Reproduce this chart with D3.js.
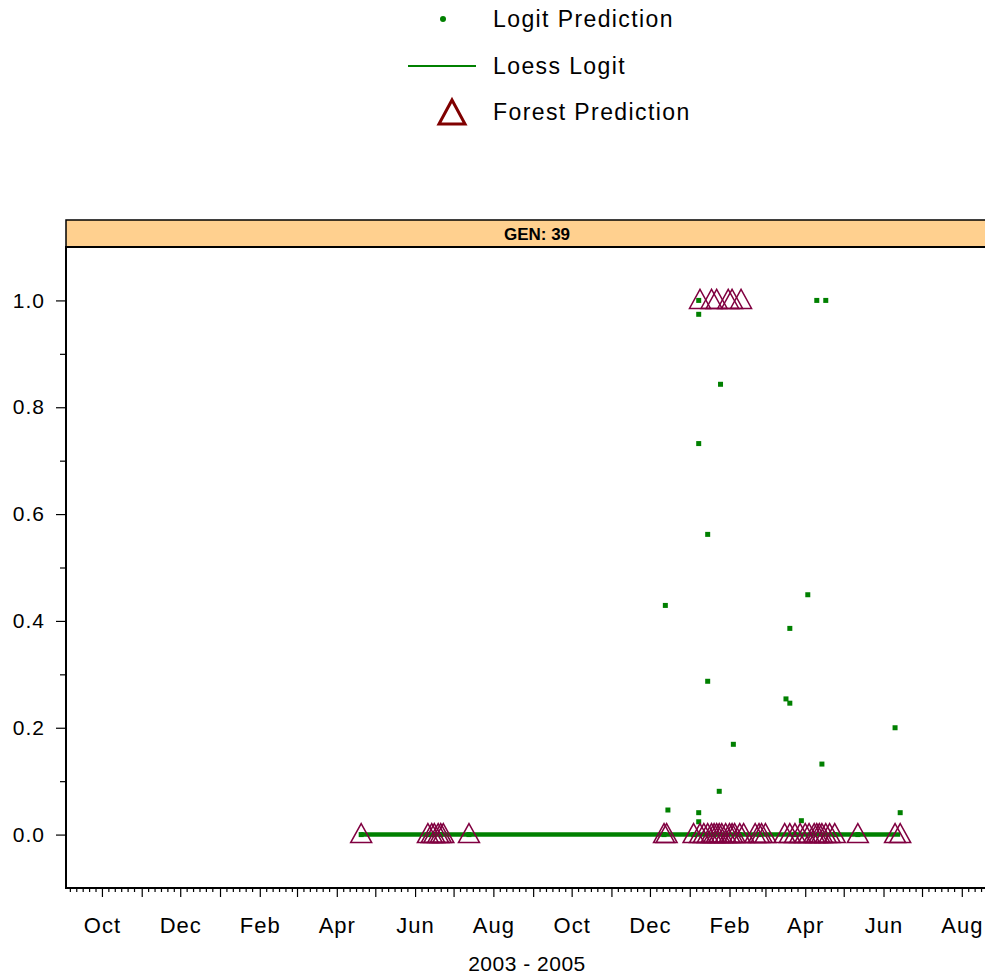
<!DOCTYPE html>
<html>
<head>
<meta charset="utf-8">
<script src="https://cdn.jsdelivr.net/npm/d3@7"></script>
<style>
  body { margin: 0; background: #fff; }
  svg { display: block; font-family: "Liberation Sans", Arial, sans-serif; }
  .axis path, .axis line { stroke: #000; stroke-width: 1.2; }
  .axis text { fill: #000; }
</style>
</head>
<body>
<div id="chart-area"></div>
<script>

// data
var panelLabel = "GEN: 39";
var xTitle = "2003 - 2005";

var logitDates = [
  "2005-01-08", "2005-01-08", "2005-04-10", "2005-04-17", "2005-01-25",
  "2005-01-08", "2005-01-15", "2004-12-13", "2005-04-03", "2005-03-20",
  "2005-01-15", "2005-03-17", "2005-03-20", "2005-02-04", "2005-04-14",
  "2005-06-10", "2005-01-24", "2004-12-15", "2005-01-08", "2005-01-08",
  "2005-03-29", "2005-06-14",
  "2004-04-20", "2004-06-11", "2004-06-16", "2004-06-21", "2004-07-13",
  "2004-12-12", "2005-01-04", "2005-01-20", "2005-02-09", "2005-02-24",
  "2005-03-24", "2005-04-24", "2005-05-12"
];
var logitValues = [
  1.0, 0.974, 1.0, 1.0, 0.843,
  0.732, 0.562, 0.429, 0.449, 0.386,
  0.287, 0.254, 0.246, 0.169, 0.132,
  0.200, 0.081, 0.046, 0.041, 0.024,
  0.026, 0.041,
  0, 0, 0, 0, 0,
  0, 0, 0, 0, 0,
  0, 0, 0
];

var loessDates = ["2004-04-20", "2004-10-01", "2005-06-14"];
var loessValues = [0, 0, 0];

var forestDates = [
  "2004-04-20", "2004-06-11", "2004-06-14", "2004-06-16", "2004-06-19",
  "2004-06-21", "2004-06-23", "2004-07-13",
  "2004-12-12", "2004-12-14", "2005-01-04", "2005-01-09", "2005-01-12",
  "2005-01-15", "2005-01-18", "2005-01-20", "2005-01-22", "2005-01-24",
  "2005-01-26", "2005-01-29", "2005-02-01", "2005-02-03", "2005-02-05",
  "2005-02-09", "2005-02-12", "2005-02-21", "2005-02-24", "2005-02-26",
  "2005-03-01", "2005-03-16", "2005-03-20", "2005-03-24", "2005-03-28",
  "2005-04-01", "2005-04-04", "2005-04-08", "2005-04-10", "2005-04-12",
  "2005-04-14", "2005-04-17", "2005-04-20", "2005-04-24", "2005-05-12",
  "2005-06-10", "2005-06-14",
  "2005-01-09", "2005-01-18", "2005-01-22", "2005-01-31", "2005-02-03",
  "2005-02-10"
];
var forestValues = [
  0, 0, 0, 0, 0, 0, 0, 0,
  0, 0, 0, 0, 0, 0, 0, 0, 0, 0,
  0, 0, 0, 0, 0, 0, 0, 0, 0, 0,
  0, 0, 0, 0, 0, 0, 0, 0, 0, 0,
  0, 0, 0, 0, 0, 0, 0,
  1, 1, 1, 1, 1, 1
];

var legendLabels = ["Logit Prediction", "Loess Logit", "Forest Prediction"];
var yTicks = [0, 0.2, 0.4, 0.6, 0.8, 1.0];
var yMinorTicks = [0.1, 0.3, 0.5, 0.7, 0.9];
var xDomain = ["2003-09-03", "2005-09-06"];
var yDomain = [-0.1, 1.1];

var W = 985, H = 977;
var green = "#008000", maroon = "#800040";

// layout
var plot = {left: 66, right: 1008, top: 247, bottom: 888, stripTop: 220};

var parse = d3.utcParse("%Y-%m-%d");

var svg = d3.select("#chart-area").append("svg")
    .attr("width", W)
    .attr("height", H);

var x = d3.scaleUtc()
    .domain(xDomain.map(parse))
    .range([plot.left, plot.right]);

var y = d3.scaleLinear()
    .domain(yDomain)
    .range([plot.bottom, plot.top]);

// legend
var legend = svg.append("g").attr("class", "legend");
var legendY = [19, 66, 112];

legend.append("circle")
    .attr("cx", 443).attr("cy", legendY[0]).attr("r", 3)
    .attr("fill", green);

legend.append("line")
    .attr("x1", 408).attr("x2", 476)
    .attr("y1", legendY[1]).attr("y2", legendY[1])
    .attr("stroke", green).attr("stroke-width", 2);

legend.append("path")
    .attr("d", "M452,100 L465,124 L439,124 Z")
    .attr("fill", "none")
    .attr("stroke", "#800000")
    .attr("stroke-width", 3);

legend.selectAll("text.lab")
    .data(legendLabels)
    .enter().append("text")
    .attr("class", "lab")
    .attr("x", 493)
    .attr("y", function (d, i) { return legendY[i]; })
    .attr("dy", "0.36em")
    .style("font-size", "23px")
    .style("letter-spacing", "1.4px")
    .text(function (d) { return d; });

// clip region for plot marks
svg.append("clipPath").attr("id", "clip")
    .append("rect")
    .attr("x", plot.left).attr("y", plot.top)
    .attr("width", plot.right - plot.left)
    .attr("height", plot.bottom - plot.top);

// strip
svg.append("rect")
    .attr("x", plot.left).attr("y", plot.stripTop)
    .attr("width", plot.right - plot.left)
    .attr("height", plot.top - plot.stripTop)
    .attr("fill", "#ffd08f")
    .attr("stroke", "#000").attr("stroke-width", 1.5);

svg.append("text")
    .attr("x", (plot.left + plot.right) / 2)
    .attr("y", (plot.stripTop + plot.top) / 2)
    .attr("dy", "0.36em")
    .attr("text-anchor", "middle")
    .style("font-size", "17px")
    .style("font-weight", "bold")
    .text(panelLabel);

// panel box
svg.append("rect")
    .attr("x", plot.left).attr("y", plot.top)
    .attr("width", plot.right - plot.left)
    .attr("height", plot.bottom - plot.top)
    .attr("fill", "none")
    .attr("stroke", "#000").attr("stroke-width", 2);

var marks = svg.append("g").attr("clip-path", "url(#clip)");

// logit points
var logitData = logitDates.map(function (d, i) {
    return {date: parse(d), value: logitValues[i]};
});
marks.selectAll("rect.logit")
    .data(logitData)
    .enter().append("rect")
    .attr("class", "logit")
    .attr("x", function (d) { return x(d.date) - 2.5; })
    .attr("y", function (d) { return y(d.value) - 2.5; })
    .attr("width", 5).attr("height", 5)
    .attr("fill", green);

// loess line
var loessData = loessDates.map(function (d, i) {
    return {date: parse(d), value: loessValues[i]};
});
marks.append("path")
    .datum(loessData)
    .attr("fill", "none")
    .attr("stroke", green)
    .attr("stroke-width", 4.5)
    .attr("d", d3.line()
        .x(function (d) { return x(d.date); })
        .y(function (d) { return y(d.value); }));

// forest triangles
var forestData = forestDates.map(function (d, i) {
    return {date: parse(d), value: forestValues[i]};
});
marks.selectAll("path.forest")
    .data(forestData)
    .enter().append("path")
    .attr("class", "forest")
    .attr("transform", function (d) {
        return "translate(" + x(d.date) + "," + y(d.value) + ")";
    })
    .attr("d", "M0,-11 L10.5,8 L-10.5,8 Z")
    .attr("fill", "none")
    .attr("stroke", maroon)
    .attr("stroke-width", 1.5);

// y axis
var yAxis = svg.append("g")
    .attr("class", "axis")
    .attr("transform", "translate(" + plot.left + ",0)")
    .call(d3.axisLeft(y).tickValues(yTicks).tickSize(10).tickPadding(11)
        .tickFormat(d3.format(".1f")));
yAxis.select(".domain").remove();
yAxis.selectAll("text")
    .style("font-size", "21px")
    .style("letter-spacing", "1px")
    .style("font-family", "'Liberation Sans', Arial, sans-serif");

var yMinor = svg.append("g")
    .attr("class", "axis")
    .attr("transform", "translate(" + plot.left + ",0)")
    .call(d3.axisLeft(y).tickValues(yMinorTicks).tickSize(6).tickFormat(""));
yMinor.select(".domain").remove();

// x axis: months (major), every 5 days (minor)
var xd = x.domain();
var months = d3.utcMonth.range(xd[0], xd[1]);
var minorDays = d3.utcDay.range(xd[0], xd[1]).filter(function (d) {
    return [6, 11, 16, 21, 26].indexOf(d.getUTCDate()) >= 0;
});
var monthFmt = d3.utcFormat("%b");

var xAxis = svg.append("g")
    .attr("class", "axis")
    .attr("transform", "translate(0," + plot.bottom + ")")
    .call(d3.axisBottom(x).tickValues(months).tickSize(9).tickPadding(20)
        .tickFormat(function (d) {
            return d.getUTCMonth() % 2 === 1 ? monthFmt(d) : "";
        }));
xAxis.select(".domain").remove();
xAxis.selectAll("text")
    .style("font-size", "22px")
    .style("letter-spacing", "1px")
    .style("font-family", "'Liberation Sans', Arial, sans-serif");

var xMinor = svg.append("g")
    .attr("class", "axis")
    .attr("transform", "translate(0," + plot.bottom + ")")
    .call(d3.axisBottom(x).tickValues(minorDays).tickSize(4).tickFormat(""));
xMinor.select(".domain").remove();

svg.append("text")
    .attr("x", 527)
    .attr("y", 971)
    .attr("text-anchor", "middle")
    .style("font-size", "21px")
    .style("letter-spacing", "0.5px")
    .text(xTitle);

</script>
</body>
</html>
